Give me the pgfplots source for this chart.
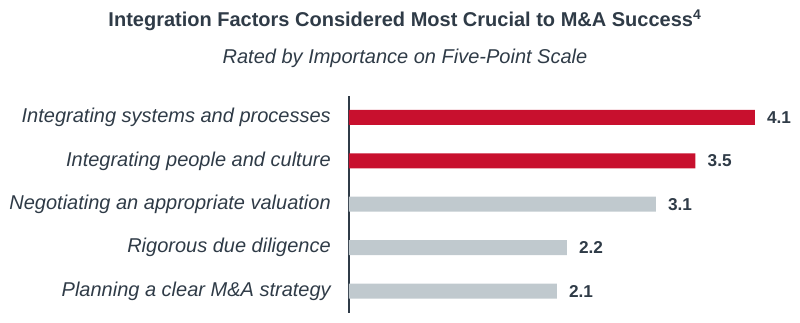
\documentclass[border=0pt]{standalone}
\usepackage{pgfplots}
\pgfplotsset{compat=1.18}
\usepackage{fontspec}
\setmainfont{Liberation Sans}
\definecolor{txt}{HTML}{2F3B47}
\definecolor{barred}{HTML}{C8102E}
\definecolor{bargray}{HTML}{C0C9CE}
\begin{document}
\begin{tikzpicture}
\path[use as bounding box] (0,0) rectangle (600pt,242.25pt);
\node[text=txt,font=\fontsize{15}{18}\selectfont\bfseries,anchor=base] at (303.75pt,222.2pt) {Integration Factors Considered Most Crucial to M\&A Success\textsuperscript{4}};
\node[text=txt,font=\fontsize{15}{18}\selectfont\itshape,anchor=base] at (303.75pt,194.8pt) {Rated by Importance on Five-Point Scale};
\begin{axis}[
  at={(261.75pt,7.7pt)}, anchor=south west,
  width=334.1pt, height=162.75pt, scale only axis,
  xmin=0, xmax=4.5, ymin=-0.5, ymax=4.5,
  xbar, bar width=11.25pt, bar shift=0pt,
  axis x line=none, axis y line*=left,
  axis line style={draw=txt, line width=1.5pt},
  ytick={0,...,4},
  yticklabels={Planning a clear M\&A strategy, Rigorous due diligence, Negotiating an appropriate valuation, Integrating people and culture, Integrating systems and processes},
  major tick length=0pt,
  yticklabel style={font=\fontsize{15}{18}\selectfont\itshape, text=txt, inner sep=0pt, xshift=-13.5pt},
  nodes near coords,
  nodes near coords style={font=\fontsize{12.9}{15}\selectfont\bfseries, text=txt, anchor=west, inner sep=0pt, xshift=9pt,
    /pgf/number format/assume math mode=true, /pgf/number format/fixed, /pgf/number format/precision=1, /pgf/number format/fixed zerofill},
  clip=false,
]
\addplot[fill=barred, draw=none] coordinates {(4.1,4) (3.5,3)};
\addplot[fill=bargray, draw=none] coordinates {(3.1,2) (2.2,1) (2.1,0)};
\end{axis}
\end{tikzpicture}
\end{document}
